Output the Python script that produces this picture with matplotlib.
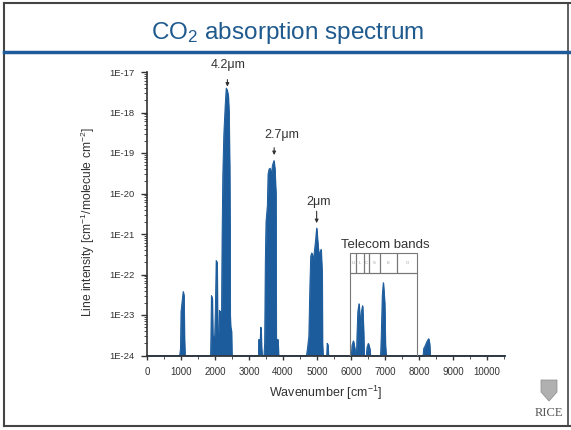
"""
CO2 absorption spectrum slide
"""

import matplotlib
matplotlib.use('Agg')
import numpy as np
import matplotlib.pyplot as plt
from matplotlib.lines import Line2D
from matplotlib.patches import Rectangle, Polygon
from matplotlib.ticker import MultipleLocator, LogLocator, FuncFormatter, NullFormatter

plt.rcParams['font.family'] = ['Liberation Sans', 'DejaVu Sans']
plt.rcParams['mathtext.fontset'] = 'custom'
plt.rcParams['mathtext.rm'] = 'Liberation Sans'
plt.rcParams['mathtext.it'] = 'Liberation Sans:italic'

# envelope of the line intensities
wavenumber = [0, 960, 985, 1000, 1040, 1065, 1085, 1100, 1115,          # 1000 band
              1870, 1880, 1895, 1920, 1935, 1990, 2010, 2035, 2060,     # 2000 group
              2080, 2110, 2130, 2150, 2170, 2190,
              2200, 2210, 2230, 2260, 2300, 2330, 2360, 2390, 2410,     # 4.2um band
              2430, 2440, 2445, 2460, 2485, 2495,
              3280, 3295, 3305, 3320, 3345, 3355, 3370, 3385,           # small 3350 band
              3440, 3460, 3480, 3500, 3540, 3560, 3590, 3620, 3660,     # 2.7um band
              3690, 3735, 3760, 3790, 3800, 3850, 3870,
              4690, 4720, 4760, 4790, 4815, 4845, 4900, 4950, 4990,     # 2um band
              5030, 5060, 5090, 5120, 5150, 5160, 5175,
              5285, 5300, 5320, 5335,
              6010, 6030, 6070, 6110, 6130,                             # telecom region
              6160, 6175, 6200, 6235, 6265, 6285, 6305, 6340, 6370, 6385,
              6450, 6470, 6510, 6550, 6570,
              6870, 6890, 6920, 6950, 6990, 7010, 7030,
              8120, 8140, 8175, 8230, 8285, 8310, 8330, 10530]
intensity = [1e-24, 1e-24, 1.5e-24, 1.2e-23, 2.5e-23, 3.8e-23, 3e-23, 3e-24, 1e-24,
             1e-24, 3e-24, 3e-23, 2.5e-23, 3e-24, 3e-24, 1.2e-23, 2.2e-22, 2e-22,
             3e-24, 4e-24, 1.3e-23, 1.2e-23, 4e-24, 5e-24,
             1e-22, 1e-21, 3e-20, 3e-19, 1.5e-18, 4e-18, 3.5e-18, 2.5e-18, 1e-18,
             5e-20, 1e-21, 1e-23, 5e-24, 4e-24, 1e-24,
             1e-24, 2.5e-24, 1.2e-24, 1.5e-24, 5e-24, 4e-24, 1.5e-24, 1e-24,
             1e-24, 2e-24, 2e-22, 2e-21, 5e-21, 3e-20, 4e-20, 4.2e-20, 3e-20,
             5e-20, 6.5e-20, 4e-20, 1e-20, 2.5e-24, 2.5e-24, 1e-24,
             1e-24, 1.5e-24, 3e-24, 5e-23, 2.8e-22, 3.4e-22, 2.5e-22, 6e-22, 1.4e-21,
             5e-22, 3e-22, 3.5e-22, 4.2e-22, 1e-22, 2e-24, 1e-24,
             1e-24, 2e-24, 1.8e-24, 1e-24,
             1e-24, 1.8e-24, 2.3e-24, 1.5e-24, 1e-24,
             1e-24, 3e-24, 1.2e-23, 1.9e-23, 8e-24, 5e-24, 1.2e-23, 1.7e-23, 4e-24, 1e-24,
             1e-24, 1.6e-24, 2e-24, 1.5e-24, 1e-24,
             1e-24, 3e-24, 3e-23, 6.3e-23, 2e-23, 2e-24, 1e-24,
             1e-24, 1.5e-24, 1.7e-24, 2.2e-24, 2.6e-24, 2e-24, 1e-24, 1e-24]

# telecom bands (O, E, S, C, L, U) edges in cm-1
telecom_edges = [5970, 6154, 6390, 6536, 6849, 7353, 7937]
telecom_names = ['U', 'L', 'C', 'S', 'E', 'O']

# peak labels: text position, arrow tail and tip
peak_labels = ['4.2\u03bcm', '2.7\u03bcm', '2\u03bcm']
label_x = [2390, 3960, 5055]
label_y = [10**-16.83, 10**-18.56, 10**-20.2]
arrow_x = [2365, 3740, 4990]
arrow_from = [10**-17.12, 10**-18.8, 10**-20.37]
arrow_to = [10**-17.43, 10**-19.12, 10**-20.8]

BLUE = '#1c5c9c'
GRAY = '#333333'


def setup_fig():
    fig = plt.figure(figsize=(5.71, 4.30), dpi=100)
    W, H = 571.0, 430.0

    # slide frame
    fig.add_artist(Line2D([4 / W, 1], [1 - 3 / H, 1 - 3 / H], color='#444', lw=1.5))
    fig.add_artist(Line2D([4 / W, 4 / W], [1 - 3 / H, 1 - 426 / H], color='#444', lw=1.5))
    fig.add_artist(Line2D([4 / W, 1], [1 - 426 / H, 1 - 426 / H], color='#444', lw=1.5))
    fig.add_artist(Line2D([568 / W, 568 / W], [1 - 3 / H, 1 - 426 / H], color='#444', lw=1.2))
    fig.add_artist(Line2D([4 / W, 1], [1 - 52 / H, 1 - 52 / H], color='#1f5a9a', lw=2.5))

    fig.text(288 / W, 1 - 33 / H, 'CO$_\\mathrm{2}$ absorption spectrum', ha='center',
             va='center', fontsize=17.5, color='#1f5a8e')

    # RICE logo (rough)
    shield = Polygon([[541 / W, 1 - 380 / H], [557 / W, 1 - 380 / H], [557 / W, 1 - 392 / H],
                      [549 / W, 1 - 401 / H], [541 / W, 1 - 392 / H]],
                     closed=True, transform=fig.transFigure, facecolor='#b0b0b0',
                     edgecolor='#888', lw=0.5)
    fig.add_artist(shield)
    fig.text(549 / W, 1 - 413 / H, 'RICE', ha='center', va='center', fontsize=9,
             family='Liberation Serif', color='#555')

    ax = fig.add_axes([147 / W, 1 - 355.5 / H, (505 - 147) / W, (355.5 - 72) / H])
    return fig, ax


def style_axes(ax):
    ax.set_yscale('log')
    ax.set_ylim(1e-24, 1e-17)
    ax.set_xlim(0, 10530)
    for side in ['top', 'right']:
        ax.spines[side].set_visible(False)
    for side in ['left', 'bottom']:
        ax.spines[side].set_color(GRAY)
        ax.spines[side].set_linewidth(1.2)

    ax.set_xticks(np.arange(0, 10001, 1000))
    ax.xaxis.set_minor_locator(MultipleLocator(500))
    ax.yaxis.set_major_locator(LogLocator(base=10, numticks=10))
    ax.yaxis.set_minor_locator(LogLocator(base=10, subs=np.arange(2, 10), numticks=20))
    ax.yaxis.set_major_formatter(FuncFormatter(lambda v, p: '1E%d' % round(np.log10(v))))
    ax.yaxis.set_minor_formatter(NullFormatter())

    ax.tick_params(axis='y', which='major', length=4, width=1, pad=5, labelsize=6.8,
                   colors=GRAY)
    ax.tick_params(axis='y', which='minor', length=2, width=0.6, colors=GRAY)
    ax.tick_params(axis='x', which='major', length=3, width=1, pad=5, labelsize=7,
                   colors=GRAY)
    ax.tick_params(axis='x', which='minor', length=2, width=0.6, colors=GRAY)

    ax.set_xlabel('Wavenumber [cm$^{\\mathrm{-1}}$]', fontsize=9, color=GRAY)
    ax.set_ylabel('Line intensity [cm$^{\\mathrm{-1}}$/molecule cm$^{\\mathrm{-2}}$]',
                  fontsize=8.7, color=GRAY)
    ax.xaxis.set_label_coords(0.5, -0.1)
    ax.yaxis.set_label_coords(-0.14, 0.47)


def plot_spectrum(ax):
    ax.fill_between(wavenumber, 1e-24, intensity, color=BLUE, lw=0.6, zorder=2)
    ax.plot(wavenumber, intensity, color=BLUE, lw=0.7, zorder=2)

    for i in range(len(peak_labels)):
        ax.text(label_x[i], label_y[i], peak_labels[i], ha='center', va='center',
                fontsize=9, color=GRAY, clip_on=False)
        ax.annotate('', xy=(arrow_x[i], arrow_to[i]), xytext=(arrow_x[i], arrow_from[i]),
                    arrowprops=dict(arrowstyle='-|>', lw=0.8, color=GRAY, mutation_scale=5),
                    annotation_clip=False)


def plot_telecom(ax):
    box_top = 10**-21.96
    cell_top = 10**-21.47
    ax.add_patch(Rectangle((telecom_edges[0], 1e-24), telecom_edges[-1] - telecom_edges[0],
                           box_top - 1e-24, fill=False, edgecolor='#777', lw=0.8, zorder=3))
    for i in range(len(telecom_names)):
        x0, x1 = telecom_edges[i], telecom_edges[i + 1]
        ax.add_patch(Rectangle((x0, box_top), x1 - x0, cell_top - box_top, fill=False,
                               edgecolor='#777', lw=0.8, zorder=3))
        ax.text((x0 + x1) / 2, 10**-21.72, telecom_names[i], ha='center', va='center',
                fontsize=3, color='#999')
    ax.text(7000, 10**-21.27, 'Telecom bands', ha='center', va='center', fontsize=9.5,
            color=GRAY)


if __name__ == "__main__":
    fig, ax = setup_fig()
    style_axes(ax)
    plot_spectrum(ax)
    plot_telecom(ax)
    fig.savefig('out.png', dpi=100)
